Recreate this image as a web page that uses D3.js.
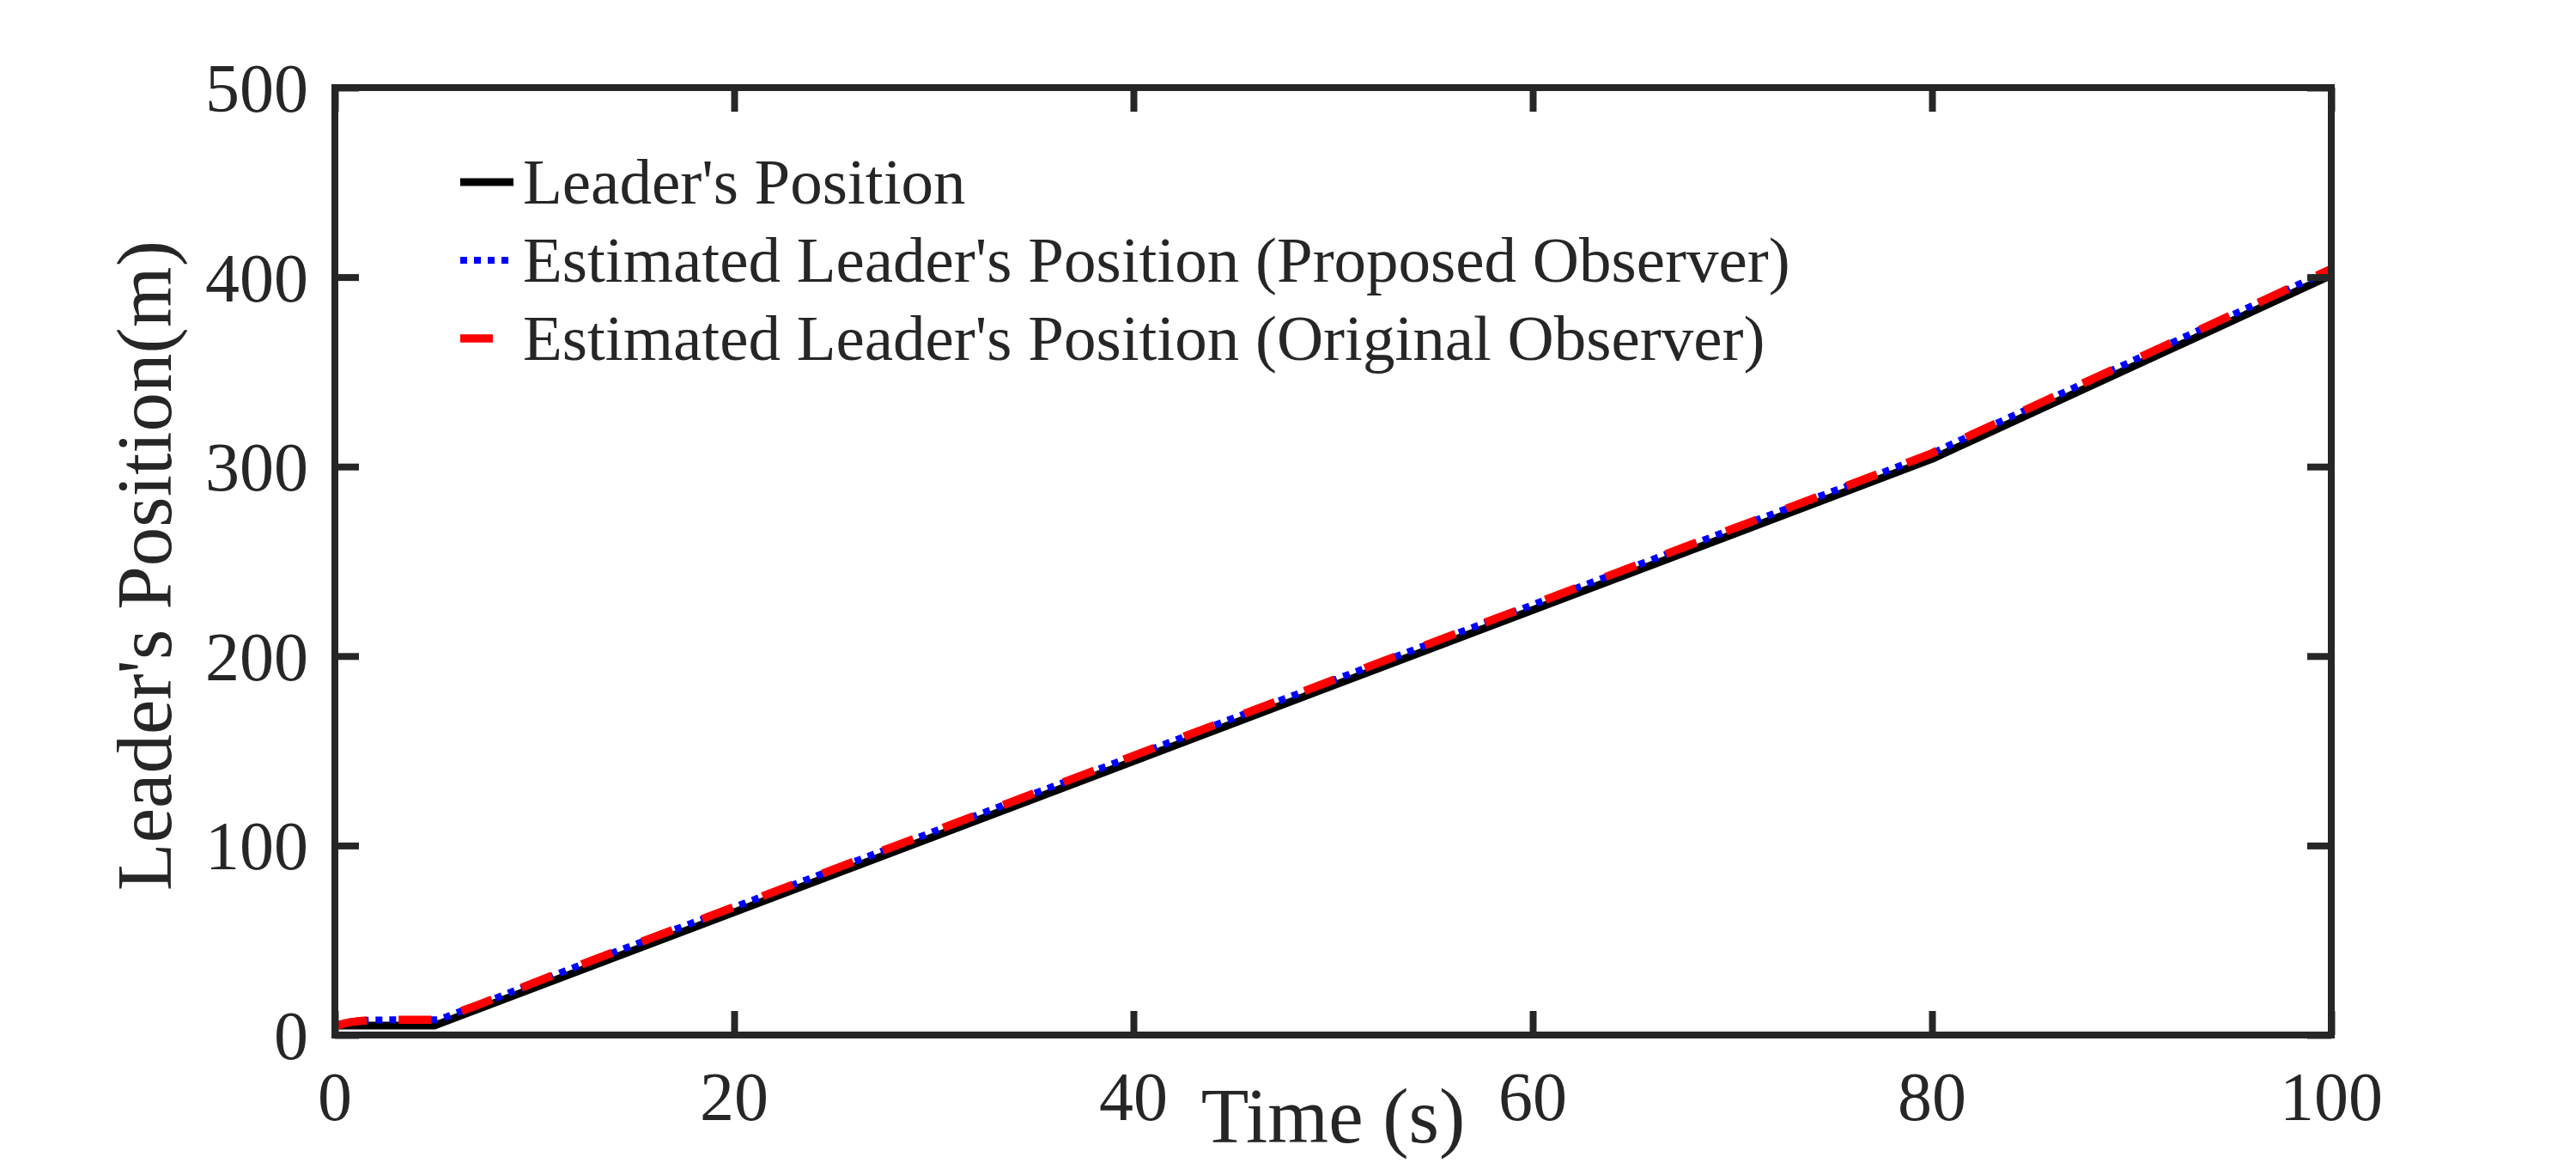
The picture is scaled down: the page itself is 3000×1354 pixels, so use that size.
<!DOCTYPE html>
<html>
<head>
<meta charset="utf-8">
<script src="https://cdn.jsdelivr.net/npm/d3@7"></script>
<style>
  html, body { margin: 0; padding: 0; background: #ffffff; }
  svg { display: block; }
  text { font-family: "Liberation Serif", "Times New Roman", serif; fill: #262626; }
</style>
</head>
<body>
<svg id="chart" width="3000" height="1354"></svg>
<script>
// ---- data ----
const xTicks = [0, 20, 40, 60, 80, 100];
const yTicks = [0, 100, 200, 300, 400, 500];

const leaderTime = [0, 5, 80, 100];
const leaderPos  = [5, 5, 304, 401];

const estTime  = [0, 0.5, 1, 1.5, 2, 3, 4, 5, 5.5, 6, 7, 10, 20, 30, 40, 50, 60, 70, 79, 80, 81, 82, 90, 100];
const proposed = [5.0, 6.5, 7.3, 7.7, 7.9, 8.0, 8.0, 8.1, 9.3, 11.4, 15.2, 27.6, 67.5, 107.4, 147.3, 187.2, 227.1, 267.0, 302.9, 307.0, 311.9, 316.8, 355.6, 404.1];
const original = [4.6, 6.2, 7.1, 7.6, 7.9, 8.0, 8.0, 8.1, 9.2, 11.3, 15.2, 27.7, 67.6, 107.5, 147.4, 187.3, 227.2, 267.1, 303.0, 307.1, 312.0, 316.9, 355.7, 404.3];

const seriesNames = [
  "Leader's Position",
  "Estimated Leader's Position (Proposed Observer)",
  "Estimated Leader's Position (Original Observer)"
];

// ---- layout ----
const svg = d3.select("#chart");
const axisColor = "#262626";
const x = d3.scaleLinear().domain([0, 100]).range([390, 2715]);
const y = d3.scaleLinear().domain([0, 500]).range([1205, 102]);
const tickLen = 28;
const frameW = 8;

svg.append("rect").attr("width", 3000).attr("height", 1354).attr("fill", "#ffffff");

// ---- data lines ----
const leaderData = leaderTime.map((t, i) => [t, leaderPos[i]]);
const propData = estTime.map((t, i) => [t, proposed[i]]);
const origData = estTime.map((t, i) => [t, original[i]]);

const lineLin = d3.line().x(d => x(d[0])).y(d => y(d[1]));
const lineSmooth = d3.line().x(d => x(d[0])).y(d => y(d[1])).curve(d3.curveMonotoneX);

const styles = [
  { color: "#000000", width: 9, dash: null },
  { color: "#0000ff", width: 8, dash: "8,8" },
  { color: "#ff0000", width: 9.5, dash: "38,37" }
];

svg.append("path").datum(leaderData)
  .attr("d", lineLin).attr("fill", "none")
  .attr("stroke", styles[0].color).attr("stroke-width", styles[0].width)
  .attr("stroke-linejoin", "round");
svg.append("path").datum(propData)
  .attr("d", lineSmooth).attr("fill", "none")
  .attr("stroke", styles[1].color).attr("stroke-width", styles[1].width)
  .attr("stroke-dasharray", styles[1].dash);
svg.append("path").datum(origData)
  .attr("d", lineSmooth).attr("fill", "none")
  .attr("stroke", styles[2].color).attr("stroke-width", styles[2].width)
  .attr("stroke-dasharray", styles[2].dash);

// ---- axes (inward ticks on all four sides) ----
function styleAxis(g) {
  g.select(".domain").remove();
  g.selectAll(".tick line").attr("stroke", axisColor).attr("stroke-width", frameW);
  g.selectAll(".tick text").remove();
}
svg.append("g").attr("transform", `translate(0,${y.range()[0]})`)
  .call(d3.axisBottom(x).tickValues(xTicks).tickSize(-tickLen).tickFormat("")).call(styleAxis);
svg.append("g").attr("transform", `translate(0,${y.range()[1]})`)
  .call(d3.axisTop(x).tickValues(xTicks).tickSize(-tickLen).tickFormat("")).call(styleAxis);
svg.append("g").attr("transform", `translate(${x.range()[0]},0)`)
  .call(d3.axisLeft(y).tickValues(yTicks).tickSize(-tickLen).tickFormat("")).call(styleAxis);
svg.append("g").attr("transform", `translate(${x.range()[1]},0)`)
  .call(d3.axisRight(y).tickValues(yTicks).tickSize(-tickLen).tickFormat("")).call(styleAxis);

// frame
svg.append("rect")
  .attr("x", x.range()[0]).attr("y", y.range()[1])
  .attr("width", x.range()[1] - x.range()[0])
  .attr("height", y.range()[0] - y.range()[1])
  .attr("fill", "none").attr("stroke", axisColor).attr("stroke-width", frameW);

// tick labels
svg.append("g").selectAll("text").data(xTicks).join("text")
  .attr("x", d => x(d)).attr("y", y.range()[0] + 99)
  .attr("text-anchor", "middle").attr("font-size", 80)
  .text(d => d);
svg.append("g").selectAll("text").data(yTicks).join("text")
  .attr("x", x.range()[0] - 31).attr("y", d => y(d) + 28)
  .attr("text-anchor", "end").attr("font-size", 80)
  .text(d => d);

// axis titles
const cx = (x.range()[0] + x.range()[1]) / 2;
const cy = (y.range()[0] + y.range()[1]) / 2;
svg.append("text").attr("x", cx).attr("y", 1330)
  .attr("text-anchor", "middle").attr("font-size", 91)
  .text("Time (s)");
svg.append("text")
  .attr("transform", `translate(199,${cy + 5}) rotate(-90)`)
  .attr("text-anchor", "middle").attr("font-size", 91)
  .text("Leader's Position(m)");

// ---- legend ----
const legend = svg.append("g").attr("transform", "translate(536,212)");
const rowH = 91;
seriesNames.forEach((name, i) => {
  const row = legend.append("g").attr("transform", `translate(0,${i * rowH})`);
  row.append("line").attr("x1", 0).attr("x2", 62).attr("y1", 0).attr("y2", 0)
    .attr("stroke", styles[i].color).attr("stroke-width", styles[i].width)
    .attr("stroke-dasharray", styles[i].dash);
  row.append("text").attr("x", 73).attr("y", 25).attr("font-size", 75).text(name);
});
</script>
</body>
</html>
